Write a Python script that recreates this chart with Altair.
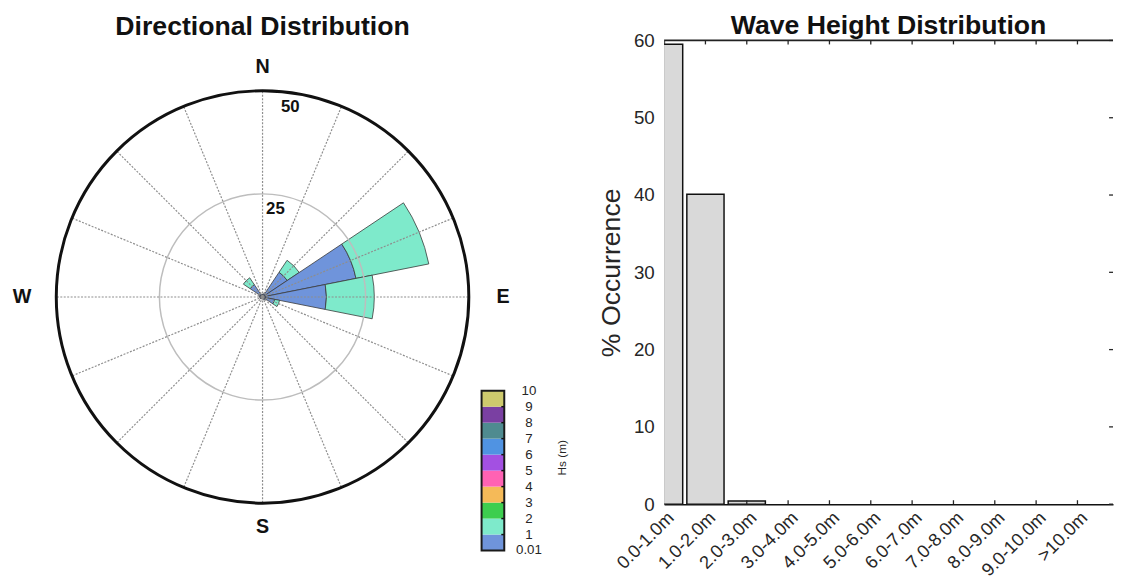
import math
import altair as alt
import pandas as pd

# ---------------- data ----------------
directions = ["N", "NNE", "NE", "ENE", "E", "ESE", "SE", "SSE",
              "S", "SSW", "SW", "WSW", "W", "WNW", "NW", "NNW"]
bearings = [0, 22.5, 45, 67.5, 90, 112.5, 135, 157.5,
            180, 202.5, 225, 247.5, 270, 292.5, 315, 337.5]
# % occurrence per direction, Hs bin 0.01-1 m and 1-2 m
hs_0_1 = [0.6, 0.8, 7.2, 23.1, 15.5, 3.0, 0.9, 0.6,
          0.5, 0.5, 0.6, 0.6, 0.7, 0.9, 3.6, 0.6]
hs_1_2 = [0.0, 0.0, 3.5, 18.0, 11.6, 1.2, 0.0, 0.0,
          0.0, 0.0, 0.0, 0.0, 0.0, 0.0, 2.0, 0.0]

ring_values = [25, 50]
compass_labels = ["N", "E", "S", "W"]
compass_angles = [0, 90, 180, 270]

bin_names = ["0.01-1", "1-2", "2-3", "3-4", "4-5", "5-6", "6-7", "7-8", "8-9", "9-10"]
bin_colors = ["#6F94DB", "#7EEACB", "#3DCE4F", "#F5BA58", "#FF62B3",
              "#A350E2", "#5093E2", "#4F8B90", "#7A40A2", "#CECA6D"]
colorbar_labels = ["0.01", "1", "2", "3", "4", "5", "6", "7", "8", "9", "10"]

hs_labels = ["0.0-1.0m", "1.0-2.0m", "2.0-3.0m", "3.0-4.0m", "4.0-5.0m", "5.0-6.0m",
             "6.0-7.0m", "7.0-8.0m", "8.0-9.0m", "9.0-10.0m", ">10.0m"]
occurrence = [59.5, 40.1, 0.4, 0, 0, 0, 0, 0, 0, 0, 0]
y_ticks = [0, 10, 20, 30, 40, 50, 60]

FONT = "Liberation Sans"
TXT = "#262626"

# ---------------- rose geometry (layout) ----------------
RW, RH = 560, 525
CX, CY = 254, 260
RMAX = 50
RPX = 209
HALF = 11.25

theta_scale = alt.Scale(domain=[0, 360], range=[0, 2 * math.pi])
rad_scale = alt.Scale(type="linear", domain=[0, RMAX], range=[0, RPX], zero=True, nice=False)
xs = alt.Scale(domain=[-RMAX, RMAX], range=[CX - RPX, CX + RPX], nice=False, zero=False, padding=0)
ys = alt.Scale(domain=[-RMAX, RMAX], range=[CY + RPX, CY - RPX], nice=False, zero=False, padding=0)
color_scale = alt.Scale(domain=bin_names, range=bin_colors)

rows = []
for d, b, v1, v2 in zip(directions, bearings, hs_0_1, hs_1_2):
    r0 = 0.0
    for name, val in ((bin_names[0], v1), (bin_names[1], v2)):
        if val > 0:
            rows.append(dict(dir=d, bearing=b, r0=r0, r1=r0 + val, bin=name))
            r0 += val
sec_df = pd.DataFrame(rows)

sectors = alt.Chart(sec_df).transform_calculate(
    t0=f"datum.bearing - {HALF}", t1=f"datum.bearing + {HALF}"
).mark_arc(stroke="#3a3a3a", strokeWidth=0.8).encode(
    theta=alt.Theta("t0:Q", scale=theta_scale),
    theta2="t1:Q",
    radius=alt.Radius("r1:Q", scale=rad_scale),
    radius2="r0:Q",
    color=alt.Color("bin:N", scale=color_scale, legend=None),
    x=alt.value(CX), y=alt.value(CY),
)

ring_df = pd.DataFrame({"r": ring_values})
grid_ring = alt.Chart(ring_df).transform_filter("datum.r < 50").mark_arc(
    fillOpacity=0, stroke="#BDBDBD", strokeWidth=1.5
).encode(
    theta=alt.value(0), theta2=alt.value(2 * math.pi),
    radius=alt.Radius("r:Q", scale=rad_scale),
    x=alt.value(CX), y=alt.value(CY),
)
outer_ring = alt.Chart(ring_df).transform_filter("datum.r == 50").mark_arc(
    fillOpacity=0, stroke="#111111", strokeWidth=3
).encode(
    theta=alt.value(0), theta2=alt.value(2 * math.pi),
    radius=alt.Radius("r:Q", scale=rad_scale),
    x=alt.value(CX), y=alt.value(CY),
)

spoke_df = pd.DataFrame({"angle": bearings})
spokes = alt.Chart(spoke_df).transform_calculate(
    x0="0", y0="0",
    x1=f"{RMAX}*sin(datum.angle*PI/180)",
    y1=f"{RMAX}*cos(datum.angle*PI/180)",
).mark_rule(strokeDash=[2, 1.5], color="#8E8E8E", strokeWidth=1.2).encode(
    x=alt.X("x0:Q", scale=xs, axis=None),
    y=alt.Y("y0:Q", scale=ys, axis=None),
    x2="x1:Q", y2="y1:Q",
)

comp_df = pd.DataFrame({"label": compass_labels, "angle": compass_angles})
compass = alt.Chart(comp_df).transform_calculate(
    rl="datum.angle % 180 == 0 ? 55.7 : 58.3"
).mark_text(font=FONT, fontSize=20, fontWeight="bold", color="#111111",
            align="center", baseline="middle").encode(
    theta=alt.Theta("angle:Q", scale=theta_scale),
    radius=alt.Radius("rl:Q", scale=rad_scale),
    text="label:N",
    x=alt.value(CX), y=alt.value(CY),
)

ring_labels = alt.Chart(ring_df).transform_calculate(
    ta="8.3", rr="datum.r - 3.4"
).mark_text(font=FONT, fontSize=17, fontWeight="bold", color="#111111",
            align="center", baseline="middle").encode(
    theta=alt.Theta("ta:Q", scale=theta_scale),
    radius=alt.Radius("rr:Q", scale=rad_scale),
    text="r:N",
    x=alt.value(CX), y=alt.value(CY),
)

# colorbar
CB_X0, CB_X1 = 476, 499
cbs = alt.Scale(domain=[0, 10], range=[517, 355], nice=False, zero=False, padding=0)
cb_df = pd.DataFrame({"lo": list(range(10)), "hi": list(range(1, 11)), "bin": bin_names})
cb_rects = alt.Chart(cb_df).mark_rect().encode(
    y=alt.Y("lo:Q", scale=cbs, axis=None), y2="hi:Q",
    x=alt.value(CB_X0), x2=alt.value(CB_X1),
    color=alt.Color("bin:N", scale=color_scale, legend=None),
)
cb_ticks = alt.Chart(cb_df).transform_filter("datum.lo > 0").mark_rule(
    color="#111111", strokeWidth=1.5
).encode(
    y=alt.Y("lo:Q", scale=cbs, axis=None),
    x=alt.value(CB_X1 - 3), x2=alt.value(CB_X1),
)
cb_border = alt.Chart(pd.DataFrame({"lo": [0], "hi": [10]})).mark_rect(
    fillOpacity=0, stroke="#1a1a1a", strokeWidth=2
).encode(
    y=alt.Y("lo:Q", scale=cbs, axis=None), y2="hi:Q",
    x=alt.value(CB_X0), x2=alt.value(CB_X1),
)
cbl_df = pd.DataFrame({"idx": list(range(11)), "text": colorbar_labels})
cb_labels = alt.Chart(cbl_df).mark_text(
    font=FONT, fontSize=13.5, color=TXT, align="center", baseline="middle"
).encode(
    y=alt.Y("idx:Q", scale=cbs, axis=None),
    x=alt.value(524),
    text="text:N",
)
cb_title = alt.Chart(pd.DataFrame({"t": ["Hs (m)"]})).mark_text(
    font=FONT, fontSize=12, color=TXT, angle=270, align="center", baseline="middle"
).encode(x=alt.value(558), y=alt.value(423), text="t:N")

rose = alt.layer(
    sectors, grid_ring, spokes, outer_ring, compass, ring_labels,
    cb_rects, cb_ticks, cb_border, cb_labels, cb_title,
).resolve_scale(y="independent", x="independent").properties(
    width=RW, height=RH,
    title=alt.TitleParams("Directional Distribution", font=FONT, fontSize=27,
                          fontWeight="bold", color="#111111", anchor="middle",
                          dx=-26, offset=0),
)

# ---------------- histogram ----------------
HW, HH = 455, 470
hist_df = pd.DataFrame({"idx": list(range(1, 12)), "label": hs_labels, "pct": occurrence})
xh = alt.Scale(domain=[1, 11.86], nice=False, zero=False, padding=0)
yh = alt.Scale(domain=[0, 60], nice=False, zero=True, padding=0)
label_expr = "[" + ",".join(f"'{l}'" for l in hs_labels) + "][datum.value - 1]"

bars = alt.Chart(hist_df).transform_filter("datum.pct > 0").transform_calculate(
    xa="datum.idx - 0.45", xb="datum.idx + 0.45"
).mark_rect(fill="#D9D9D9", stroke="#111111", strokeWidth=1.5, clip=True).encode(
    x=alt.X("xa:Q", scale=xh, title=None,
            axis=alt.Axis(values=list(range(1, 12)), labelExpr=label_expr,
                          labelAngle=315, labelAlign="right", labelBaseline="top",
                          labelPadding=4, labelFont=FONT, labelFontSize=18.5,
                          labelColor=TXT, ticks=False, grid=False,
                          domainColor="#111111", domainWidth=1.5, labelOverlap=False)),
    x2="xb:Q",
    y=alt.Y("pct:Q", scale=yh, title="% Occurrence",
            axis=alt.Axis(values=y_ticks, labelFont=FONT, labelFontSize=19,
                          labelColor=TXT, labelPadding=10, ticks=False, grid=False,
                          domainColor="#555555", domainWidth=1.2,
                          titleFont=FONT, titleFontSize=27, titleFontWeight="normal",
                          titleColor=TXT, titlePadding=8)),
    y2=alt.datum(0),
)

# inward ticks (hidden where the tall bars cover them in the reference)
bottom_ticks = alt.Chart(hist_df).transform_filter("datum.pct < 1").mark_rule(
    color="#262626", strokeWidth=1.3
).encode(
    x=alt.X("idx:Q", scale=xh),
    y=alt.value(HH), y2=alt.value(HH - 4),
)
top_ticks = alt.Chart(hist_df).transform_filter("datum.pct < 59").mark_rule(
    color="#262626", strokeWidth=1.3
).encode(
    x=alt.X("idx:Q", scale=xh),
    y=alt.value(0), y2=alt.value(4),
)
yt_df = pd.DataFrame({"v": y_ticks})
right_ticks = alt.Chart(yt_df).mark_rule(color="#262626", strokeWidth=1.3).encode(
    y=alt.Y("v:Q", scale=yh),
    x=alt.value(HW - 4), x2=alt.value(HW),
)
top_border = alt.Chart(pd.DataFrame({"top": [60]})).mark_rule(
    color="#222222", strokeWidth=1.8
).encode(y=alt.Y("top:Q", scale=yh))

hist = alt.layer(bars, bottom_ticks, top_ticks, right_ticks, top_border).properties(
    width=HW, height=HH,
    title=alt.TitleParams("Wave Height Distribution", font=FONT, fontSize=27,
                          fontWeight="bold", color="#111111", anchor="middle",
                          offset=-8),
)

chart = alt.hconcat(rose, hist, spacing=29).properties(
    padding={"left": 4, "top": 0, "right": 0, "bottom": 0}
).configure_view(strokeWidth=0)

chart.save("out.html", embed_options={"renderer": "svg", "actions": False})
